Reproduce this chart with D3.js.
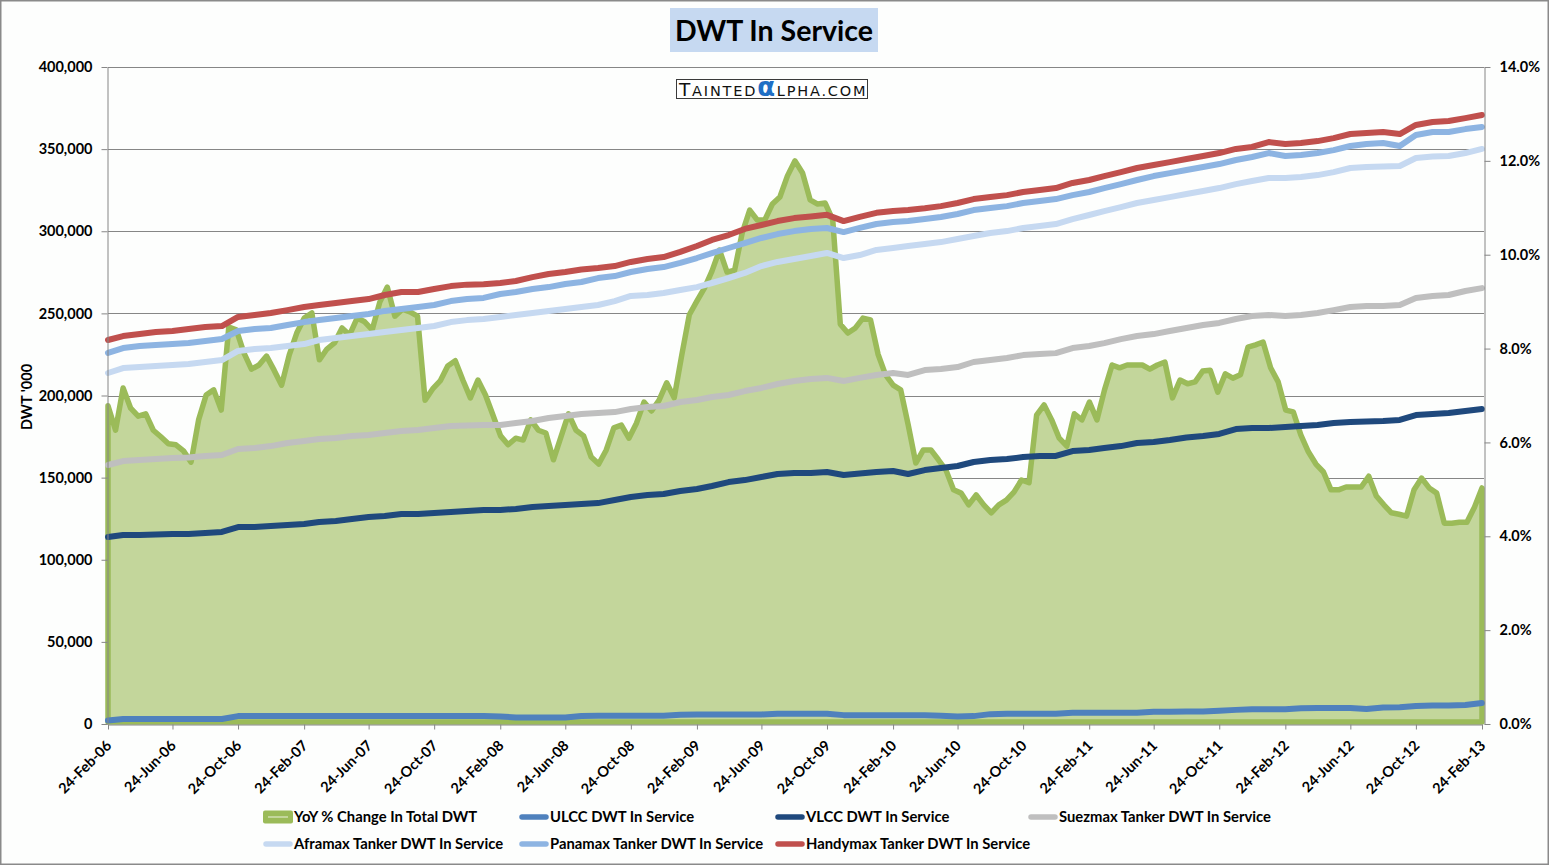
<!DOCTYPE html>
<html>
<head>
<meta charset="utf-8">
<title>DWT In Service</title>
<script src="https://cdn.jsdelivr.net/npm/d3@7"></script>
<style>
    body { margin: 0; background: #ffffff; }
    svg { display: block; font-family: Lato, "Open Sans", sans-serif; }
</style>
</head>
<body>
<script>
//series names, in Excel drawing order
var seriesNames = ["YoY % Change In Total DWT", "ULCC DWT In Service", "VLCC DWT In Service",
    "Suezmax Tanker DWT In Service", "Aframax Tanker DWT In Service",
    "Panamax Tanker DWT In Service", "Handymax Tanker DWT In Service"];

//axis ticks
var leftTicks = [0, 50000, 100000, 150000, 200000, 250000, 300000, 350000, 400000];
var rightTicks = [0, 2, 4, 6, 8, 10, 12, 14];
var firstDate = new Date(2006, 1, 24),
    lastDate = new Date(2013, 1, 24);

//monthly fleet DWT ('000), one value per 24th of the month, Feb-06 .. Feb-13
var ulcc = [2200, 3000, 3000, 3000, 3000, 3000, 3000, 3000, 4800, 4800,
    4800, 4800, 4800, 4800, 4800, 4800, 4800, 4800, 4800, 4800,
    4800, 4800, 4800, 4800, 4600, 4000, 4000, 4000, 4000, 4900,
    5000, 5000, 5000, 5000, 5000, 5600, 5800, 5800, 5800, 5800,
    5800, 6200, 6200, 6200, 6200, 5400, 5400, 5400, 5400, 5400,
    5400, 5000, 4600, 4800, 6000, 6300, 6300, 6300, 6300, 6800,
    6800, 6800, 6800, 6800, 7400, 7400, 7600, 7600, 8000, 8600,
    9000, 9000, 9000, 9600, 9800, 9800, 9800, 9200, 10100, 10200,
    11000, 11200, 11200, 11600, 12800];

var vlcc = [113800, 115100, 115100, 115400, 115700, 115700, 116300, 116900, 119900, 119900,
    120500, 121200, 121800, 123000, 123600, 124800, 126000, 126600, 127800, 127800,
    128500, 129100, 129700, 130300, 130300, 130900, 132100, 132700, 133300, 133900,
    134500, 136400, 138200, 139400, 140000, 141900, 143100, 144900, 147300, 148500,
    150400, 152200, 152800, 152800, 153400, 151600, 152500, 153400, 154000, 152200,
    154600, 155900, 157100, 159500, 160700, 161300, 162500, 163200, 163200, 166200,
    166800, 168000, 169200, 171100, 171700, 172900, 174400, 175300, 176600, 179600,
    180200, 180200, 180800, 181400, 182000, 183200, 183800, 184200, 184500, 185100,
    188100, 188700, 189300, 190600, 191800];

var suezmax = [157700, 160100, 160700, 161300, 161900, 162200, 163200, 163800, 167400, 168000,
    169200, 171100, 172300, 173500, 174100, 175300, 175900, 177200, 178400, 179000,
    180200, 181400, 181700, 182000, 182000, 183200, 184500, 186300, 187500, 188700,
    189300, 189900, 191800, 193000, 193600, 196000, 197300, 199100, 200300, 202700,
    204600, 207000, 208800, 210000, 210700, 208800, 210700, 212500, 213700, 212500,
    215500, 216100, 217300, 220400, 221600, 222800, 224600, 225200, 225800, 228900,
    230100, 231900, 234300, 236200, 237400, 239300, 241100, 242900, 244200, 246600,
    248400, 249000, 248400, 249000, 250200, 252000, 253900, 254500, 254500, 255100,
    259400, 260600, 261200, 263600, 265400];

var aframax = [213700, 216700, 217400, 218000, 218600, 219200, 220400, 221600, 227100, 228300,
    228900, 230100, 231300, 233800, 235000, 236200, 237400, 238600, 239900, 241100,
    242300, 244700, 245900, 246600, 247800, 249000, 250200, 251400, 252700, 253900,
    255100, 257500, 260600, 261200, 262400, 264200, 266000, 268500, 271500, 274600,
    278800, 281300, 283100, 284900, 286800, 283700, 285500, 288600, 289800, 291000,
    292200, 293400, 295300, 297100, 298900, 300100, 302000, 303200, 304400, 307400,
    309900, 312300, 314700, 317200, 319000, 320800, 322700, 324500, 326300, 328700,
    330600, 332400, 332400, 333000, 334200, 336000, 338500, 339100, 339400, 339700,
    344600, 345500, 345800, 347600, 350100];

var panamax = [225900, 228900, 230100, 230700, 231300, 232000, 233200, 234400, 239300, 240500,
    241100, 242900, 244700, 246000, 247200, 248400, 249600, 251500, 252700, 253900,
    255100, 257500, 258700, 259400, 261800, 263000, 264800, 266000, 267900, 269100,
    271500, 272700, 275200, 277000, 278200, 280700, 283700, 286700, 289800, 292800,
    295900, 298300, 300100, 301400, 302000, 299500, 302000, 304400, 305600, 306200,
    307400, 308700, 310500, 312900, 314100, 315300, 317200, 318400, 319600, 322000,
    323900, 326300, 328700, 331200, 333600, 335400, 337300, 339100, 340900, 343400,
    345200, 347600, 345800, 346400, 347600, 349400, 351900, 353100, 353700, 351900,
    358600, 360400, 360400, 362200, 363500];

var handymax = [233800, 236200, 237400, 238600, 239300, 240500, 241700, 242300, 247800, 249000,
    250200, 252000, 253900, 255100, 256300, 257500, 258700, 261200, 263000, 263000,
    264800, 266600, 267500, 267800, 268500, 269700, 272100, 274000, 275200, 276700,
    277600, 278800, 281300, 283100, 284300, 287400, 291000, 294700, 297700, 301400,
    303800, 306200, 308000, 309000, 310000, 306200, 308700, 311200, 312300, 312900,
    314000, 315300, 317200, 319600, 320800, 322000, 323900, 325100, 326300, 329400,
    331200, 333600, 336000, 338500, 340300, 342100, 344000, 345800, 347600, 350100,
    351300, 354300, 353100, 353700, 354900, 356700, 359200, 359800, 360400, 359200,
    364700, 366500, 367100, 368900, 370800];

//YoY % change in total DWT, fortnightly Feb-06 .. Feb-13
var yoy = [6.78, 6.26, 7.16, 6.73, 6.56, 6.61, 6.26, 6.12, 5.97, 5.95,
    5.82, 5.58, 6.48, 7.01, 7.12, 6.69, 8.46, 8.40, 7.91, 7.56,
    7.65, 7.84, 7.54, 7.22, 7.86, 8.33, 8.65, 8.76, 7.76, 7.99,
    8.12, 8.44, 8.29, 8.65, 8.57, 8.40, 8.99, 9.31, 8.69, 8.84,
    8.78, 8.69, 6.90, 7.14, 7.31, 7.63, 7.74, 7.33, 6.95, 7.33,
    7.01, 6.58, 6.14, 5.95, 6.09, 6.05, 6.48, 6.26, 6.20, 5.63,
    6.12, 6.61, 6.26, 6.14, 5.69, 5.54, 5.84, 6.31, 6.37, 6.09,
    6.41, 6.86, 6.67, 6.90, 7.27, 6.95, 7.86, 8.72, 9.01, 9.29,
    9.65, 10.10, 9.63, 9.67, 10.46, 10.95, 10.74, 10.74, 11.08, 11.23,
    11.68, 12.00, 11.74, 11.17, 11.08, 11.10, 10.74, 8.52, 8.33, 8.44,
    8.65, 8.61, 7.88, 7.44, 7.22, 7.12, 6.37, 5.56, 5.84, 5.84,
    5.63, 5.41, 4.99, 4.92, 4.67, 4.88, 4.67, 4.50, 4.67, 4.77,
    4.94, 5.20, 5.14, 6.58, 6.80, 6.48, 6.09, 5.92, 6.61, 6.48,
    6.86, 6.48, 7.12, 7.65, 7.59, 7.65, 7.65, 7.65, 7.56, 7.65,
    7.71, 6.95, 7.33, 7.25, 7.29, 7.52, 7.54, 7.07, 7.46, 7.37,
    7.44, 8.03, 8.08, 8.14, 7.59, 7.29, 6.69, 6.65, 6.16, 5.80,
    5.54, 5.37, 4.99, 4.99, 5.05, 5.05, 5.05, 5.28, 4.86, 4.67,
    4.50, 4.47, 4.43, 4.99, 5.24, 5.03, 4.92, 4.28, 4.28, 4.30,
    4.30, 4.62, 5.03];

var colors = ["#9BBB59", "#4F81BD", "#1F497D", "#BFBFBF", "#C6D9F1", "#8DB4E2", "#C0504D"];

window.onload = drawChart();

function drawChart(){

    //canvas and plot frame
    var width = 1549,
        height = 865,
        plotLeft = 108,
        plotRight = 1482,
        plotTop = 67,
        plotBottom = 724;

    var svg = d3.select("body")
        .append("svg")
        .attr("width", width)
        .attr("height", height);

    svg.append("rect")
        .attr("x", 0.75).attr("y", 0.75)
        .attr("width", width - 1.5).attr("height", height - 1.5)
        .attr("fill", "#fdfefd")
        .attr("stroke", "#8a8a8a")
        .attr("stroke-width", 1.5);

    //dates for the monthly and fortnightly series
    var monthDates = handymax.map(function(d, i){ return d3.timeMonth.offset(firstDate, i); });
    var yoyDates = yoy.map(function(d, i){
        return new Date(+firstDate + i * (lastDate - firstDate) / (yoy.length - 1));
    });

    var x = d3.scaleTime()
        .domain([firstDate, lastDate])
        .range([plotLeft, plotRight]);

    var yLeft = d3.scaleLinear()
        .domain([0, 400000])
        .range([plotBottom, plotTop]);

    var yRight = d3.scaleLinear()
        .domain([0, 14])
        .range([plotBottom, plotTop]);

    //horizontal gridlines
    svg.append("g")
        .selectAll("line")
        .data(leftTicks.slice(1))
        .enter()
        .append("line")
        .attr("x1", plotLeft).attr("x2", plotRight + 2)
        .attr("y1", function(d){ return Math.round(yLeft(d)) + 0.5; })
        .attr("y2", function(d){ return Math.round(yLeft(d)) + 0.5; })
        .attr("stroke", "#868686")
        .attr("stroke-width", 1);

    //YoY area (right axis)
    var yoyData = yoy.map(function(v, i){ return {date: yoyDates[i], value: v}; });

    var area = d3.area()
        .x(function(d){ return x(d.date); })
        .y0(yRight(0) - 2)
        .y1(function(d){ return yRight(d.value); });

    svg.append("path")
        .datum(yoyData)
        .attr("d", area)
        .attr("fill", "#C3D69B")
        .attr("stroke", colors[0])
        .attr("stroke-width", 5.5)
        .attr("stroke-linejoin", "round");

    //DWT lines (left axis)
    var lineSeries = [ulcc, vlcc, suezmax, aframax, panamax, handymax];

    var line = d3.line()
        .x(function(d, i){ return x(monthDates[i]); })
        .y(function(d){ return yLeft(d); });

    svg.append("g")
        .selectAll("path")
        .data(lineSeries)
        .enter()
        .append("path")
        .attr("d", line)
        .attr("fill", "none")
        .attr("stroke", function(d, i){ return colors[i + 1]; })
        .attr("stroke-width", 6)
        .attr("stroke-linejoin", "round")
        .attr("stroke-linecap", "round");

    //axes
    var leftAxis = d3.axisLeft(yLeft)
        .tickValues(leftTicks)
        .tickFormat(d3.format(","))
        .tickSize(6)
        .tickSizeOuter(0)
        .tickPadding(9);

    var rightAxis = d3.axisRight(yRight)
        .tickValues(rightTicks)
        .tickFormat(function(d){ return d.toFixed(1) + "%"; })
        .tickSize(6)
        .tickSizeOuter(0)
        .tickPadding(9);

    var dateTicks = d3.range(0, 85, 4).map(function(k){ return d3.timeMonth.offset(firstDate, k); });

    var bottomAxis = d3.axisBottom(x)
        .tickValues(dateTicks)
        .tickFormat(d3.timeFormat("%d-%b-%y"))
        .tickSize(5)
        .tickSizeOuter(0);

    var gLeft = svg.append("g")
        .attr("transform", "translate(" + (plotLeft - 0.5) + ",0)")
        .call(leftAxis);

    var gRight = svg.append("g")
        .attr("transform", "translate(" + (plotRight + 2.5) + ",0)")
        .call(rightAxis);

    var gBottom = svg.append("g")
        .attr("transform", "translate(0," + (plotBottom + 0.5) + ")")
        .call(bottomAxis);

    [gLeft, gRight, gBottom].forEach(function(g){
        g.selectAll("path, line").attr("stroke", "#868686");
        g.selectAll("text")
            .attr("fill", "#000")
            .style("font-size", "14.5px")
            .style("font-weight", "bold")
            .style("font-family", "Lato, sans-serif");
    });

    gBottom.selectAll("text")
        .attr("text-anchor", "end")
        .attr("y", 0)
        .attr("dy", "0")
        .attr("transform", "translate(4,22) rotate(-45)");

    //y axis title
    svg.append("text")
        .attr("transform", "translate(32,397) rotate(-90)")
        .attr("text-anchor", "middle")
        .style("font-size", "14.5px")
        .style("font-weight", "bold")
        .text("DWT '000");

    //chart title
    svg.append("rect")
        .attr("x", 670).attr("y", 8)
        .attr("width", 208).attr("height", 44)
        .attr("fill", "#C6D9F1");

    svg.append("text")
        .attr("x", 774).attr("y", 41)
        .attr("text-anchor", "middle")
        .style("font-size", "28.5px")
        .style("font-weight", "bold")
        .attr("fill", "#000")
        .text("DWT In Service");

    //watermark
    svg.append("rect")
        .attr("x", 676.5).attr("y", 79.5)
        .attr("width", 191).attr("height", 19)
        .attr("fill", "#ffffff")
        .attr("stroke", "#3a3a3a");

    var mark = svg.append("text")
        .attr("x", 679).attr("y", 96)
        .style("font-family", "'DejaVu Sans', sans-serif")
        .style("letter-spacing", "1.8px")
        .attr("fill", "#111");
    mark.append("tspan").style("font-size", "18.5px").text("T");
    mark.append("tspan").style("font-size", "14.5px").text("AINTED");
    mark.append("tspan").style("font-size", "26px").style("font-weight", "bold")
        .attr("fill", "#1F6FC5").text("\u03b1");
    mark.append("tspan").style("font-size", "14.5px").text("LPHA.COM");

    //legend, four columns by two rows
    var legendCols = [263, 519, 775, 1028],
        legendRows = [817, 844];

    var legend = svg.append("g")
        .selectAll("g")
        .data(seriesNames)
        .enter()
        .append("g")
        .attr("transform", function(d, i){
            return "translate(" + legendCols[i % 4] + "," + legendRows[Math.floor(i / 4)] + ")";
        });

    legend.each(function(d, i){
        var g = d3.select(this);
        if (i === 0){
            g.append("rect")
                .attr("x", 0).attr("y", -6.5)
                .attr("width", 30).attr("height", 13)
                .attr("rx", 2)
                .attr("fill", colors[0]);
            g.append("line")
                .attr("x1", 5).attr("x2", 25)
                .attr("stroke", "#C3D69B")
                .attr("stroke-width", 2);
        } else {
            g.append("line")
                .attr("x1", 3).attr("x2", 27)
                .attr("stroke", colors[i])
                .attr("stroke-width", 5.5)
                .attr("stroke-linecap", "round");
        }
        g.append("text")
            .attr("x", 31)
            .attr("dy", "0.36em")
            .style("font-size", "14.8px")
            .style("font-weight", "bold")
            .text(d);
    });
};
</script>
</body>
</html>
